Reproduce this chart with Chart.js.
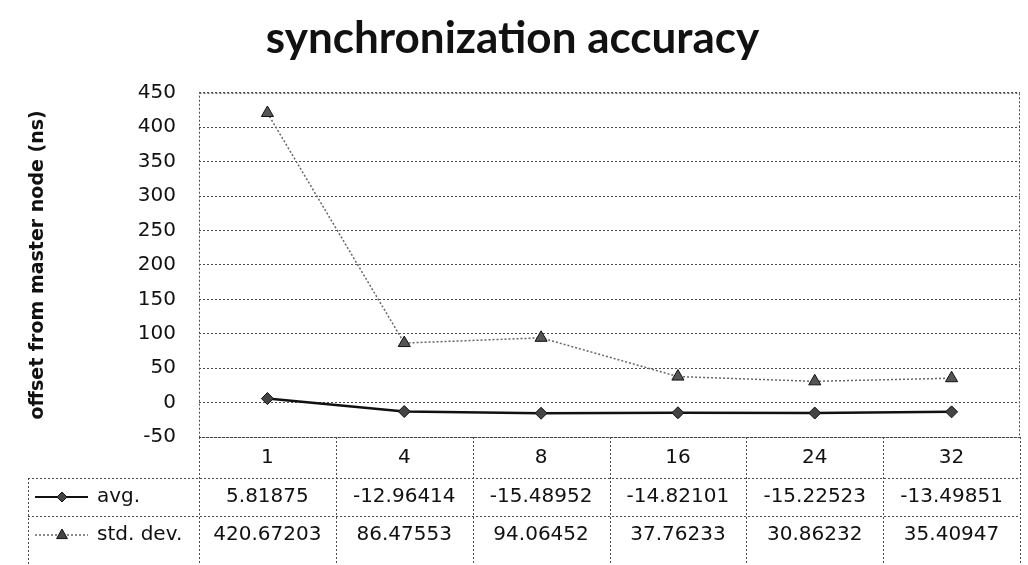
<!DOCTYPE html>
<html>
<head>
<meta charset="utf-8">
<script src="https://cdn.jsdelivr.net/npm/chart.js@4"></script>
<style>
	html, body { margin: 0; padding: 0; background: #ffffff; }
</style>
</head>
<body>
<canvas id="myChart" width="1028" height="565"></canvas>
<script>
// Data
const categories = ["1", "4", "8", "16", "24", "32"];
const avgValues = [5.81875, -12.96414, -15.48952, -14.82101, -15.22523, -13.49851];
const stdDevValues = [420.67203, 86.47553, 94.06452, 37.76233, 30.86232, 35.40947];
const seriesNames = ["avg.", "std. dev."];
const yMin = -50;
const yMax = 450;
const yStep = 50;

const gridColor = "#4a4a4a";
const tableFont = "20px 'DejaVu Sans'";

function dotted(ctx) {
	ctx.strokeStyle = gridColor;
	ctx.lineWidth = 1;
	ctx.setLineDash([2, 2]);
}

function drawMarker(ctx, style, x, y, r) {
	ctx.save();
	ctx.setLineDash([]);
	ctx.beginPath();
	if (style === "rectRot") {
		ctx.moveTo(x, y - r);
		ctx.lineTo(x + r, y);
		ctx.lineTo(x, y + r);
		ctx.lineTo(x - r, y);
	} else {
		ctx.moveTo(x, y - r);
		ctx.lineTo(x + r * 0.9, y + r * 0.6);
		ctx.lineTo(x - r * 0.9, y + r * 0.6);
	}
	ctx.closePath();
	ctx.fillStyle = "#444444";
	ctx.fill();
	ctx.strokeStyle = "#111111";
	ctx.lineWidth = 1;
	ctx.stroke();
	ctx.restore();
}

// Plot frame + data table below the chart area
const dataTable = {
	id: "dataTable",
	afterDraw(chart) {
		const ctx = chart.ctx;
		const area = chart.chartArea;
		const colW = (area.right - area.left) / categories.length;
		const rows = [area.bottom, area.bottom + 41, area.bottom + 79, area.bottom + 117];
		const legendLeft = 28;
		const bottomEdge = chart.height;

		ctx.save();
		dotted(ctx);

		// frame of the plot
		ctx.strokeRect(area.left + 0.5, area.top + 0.5, area.right - area.left - 1, area.bottom - area.top);

		// horizontal lines of the table
		ctx.beginPath();
		ctx.moveTo(legendLeft, rows[1] + 0.5);
		ctx.lineTo(area.right, rows[1] + 0.5);
		ctx.moveTo(legendLeft, rows[2] + 0.5);
		ctx.lineTo(area.right, rows[2] + 0.5);
		// vertical lines
		ctx.moveTo(legendLeft + 0.5, rows[1]);
		ctx.lineTo(legendLeft + 0.5, bottomEdge);
		for (let i = 0; i <= categories.length; i++) {
			const xx = Math.round(area.left + i * colW) + 0.5;
			ctx.moveTo(xx, area.bottom);
			ctx.lineTo(xx, bottomEdge);
		}
		ctx.stroke();

		// texts
		ctx.setLineDash([]);
		ctx.fillStyle = "#111111";
		ctx.font = tableFont;
		ctx.textAlign = "center";
		ctx.textBaseline = "middle";
		const rowValues = [avgValues, stdDevValues];
		categories.forEach((c, i) => {
			const cx = chart.scales.x.getPixelForValue(i);
			ctx.fillText(c, cx, (rows[0] + rows[1]) / 2);
			rowValues.forEach((vals, r) => {
				ctx.fillText(String(vals[i]), cx, (rows[r + 1] + rows[r + 2]) / 2);
			});
		});

		// legend keys
		ctx.textAlign = "left";
		seriesNames.forEach((name, r) => {
			const y = (rows[r + 1] + rows[r + 2]) / 2;
			ctx.save();
			ctx.strokeStyle = r === 0 ? "#111111" : "#666666";
			ctx.lineWidth = r === 0 ? 2 : 1.5;
			ctx.setLineDash(r === 0 ? [] : [2, 2]);
			ctx.beginPath();
			ctx.moveTo(35, y);
			ctx.lineTo(88, y);
			ctx.stroke();
			ctx.restore();
			drawMarker(ctx, r === 0 ? "rectRot" : "triangle", 62, y, r === 0 ? 5 : 6);
			ctx.fillText(name, 97, y);
		});
		ctx.restore();
	},
};

var ctx = document.getElementById("myChart").getContext("2d");
var myChart = new Chart(ctx, {
	type: "line",
	data: {
		labels: categories,
		datasets: [
			{
				label: seriesNames[0],
				data: avgValues,
				borderColor: "#111111",
				borderWidth: 2.5,
				pointStyle: "rectRot",
				pointRadius: 6,
				pointBackgroundColor: "#444444",
				pointBorderColor: "#111111",
				pointBorderWidth: 1,
				tension: 0,
			},
			{
				label: seriesNames[1],
				data: stdDevValues,
				borderColor: "#666666",
				borderWidth: 1.5,
				borderDash: [2, 2],
				pointStyle: "triangle",
				pointRadius: 7,
				pointBackgroundColor: "#555555",
				pointBorderColor: "#111111",
				pointBorderWidth: 1,
				tension: 0,
			},
		],
	},
	options: {
		responsive: false,
		animation: false,
		layout: {
			padding: { left: 0, right: 3, top: 0, bottom: 128 },
		},
		plugins: {
			legend: { display: false },
			tooltip: { enabled: false },
			title: {
				display: true,
				text: "synchronization accuracy",
				color: "#111111",
				font: { family: "Lato", size: 44, weight: "bold" },
				padding: { top: 12, bottom: 28 },
			},
		},
		scales: {
			x: {
				display: false,
				offset: true,
			},
			y: {
				min: yMin,
				max: yMax,
				afterFit(scale) {
					scale.width = 199;
				},
				ticks: {
					stepSize: yStep,
					padding: 23,
					color: "#111111",
					font: { family: "DejaVu Sans", size: 20 },
				},
				grid: {
					color: gridColor,
					drawTicks: false,
				},
				border: {
					display: false,
					dash: [2, 2],
				},
				title: {
					display: true,
					text: "offset from master node (ns)",
					color: "#111111",
					font: { family: "DejaVu Sans", size: 19, weight: "bold" },
					padding: { top: 27, bottom: 0 },
				},
			},
		},
	},
	plugins: [dataTable],
});
</script>
</body>
</html>
